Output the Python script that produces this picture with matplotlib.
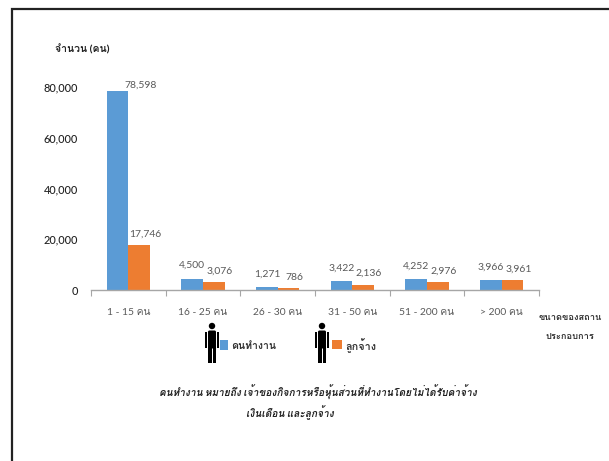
import matplotlib
matplotlib.use('Agg')
import matplotlib.pyplot as plt
from matplotlib import font_manager as fm
from matplotlib.patches import Circle, Rectangle, FancyBboxPatch

categories = ['1 - 15 คน', '16 - 25 คน', '26 - 30 คน', '31 - 50 คน', '51 - 200 คน', '> 200 คน']
workers = [78598, 4500, 1271, 3422, 4252, 3966]
employees = [17746, 3076, 786, 2136, 2976, 3961]
yticks = [0, 20000, 40000, 60000, 80000]
worker_label = 'คนทำงาน'
employee_label = 'ลูกจ้าง'
y_title = 'จำนวน (คน)'
x_title = ['ขนาดของสถาน', 'ประกอบการ']
note = ['คนทำงาน หมายถึง เจ้าของกิจการหรือหุ้นส่วนที่ทำงานโดยไม่ได้รับค่าจ้าง', 'เงินเดือน และลูกจ้าง']

# fonts covering Thai, Loma first when present
thai = []
for f in fm.fontManager.ttflist:
    try:
        if 0x0E01 in fm.get_font(f.fname).get_charmap() and f.name not in thai:
            thai.append(f.name)
    except Exception:
        pass
thai.sort(key=lambda n: n != 'Loma')
family = ['Lato'] + thai[:3] + ['DejaVu Sans']
plt.rcParams['font.family'] = family

W, H = 609, 461
PT = 0.72
fig = plt.figure(figsize=(W/100, H/100), dpi=100)
fig.patch.set_facecolor('white')
ax = fig.add_axes([91/W, 1-290/H, 448/W, 202.6/H])
x = list(range(len(categories)))
bw = 0.288
blue, orange = '#5B9BD5', '#ED7D31'
ax.bar([i-bw/2 for i in x], workers, bw, color=blue)
ax.bar([i+bw/2 for i in x], employees, bw, color=orange)
ax.set_xlim(-0.5, 5.5); ax.set_ylim(0, 80000)
for s in ['top', 'right', 'left']:
    ax.spines[s].set_visible(False)
ax.spines['bottom'].set_color('#A6A6A6'); ax.spines['bottom'].set_linewidth(1)
ax.set_yticks(yticks, [f'{v:,}' for v in yticks], fontsize=7.8, color='#222222', fontweight='medium')
ax.tick_params(axis='y', length=0, pad=9.4)
ax.set_xticks([i-0.5 for i in range(7)], [''] * 7)
ax.tick_params(axis='x', length=4, color='#A6A6A6', direction='out')
for i, c in enumerate(categories):
    ax.annotate(c, (i, 0), xytext=(0, -16.3), textcoords='offset points',
                ha='center', va='center', fontsize=7.4, color='#595959')
for i, (a, b) in enumerate(zip(workers, employees)):
    dx, dy = (23.5, 6) if i == 0 else (0, 13)
    ax.annotate(f'{a:,}', (i-bw/2, a), xytext=(dx*PT, dy*PT), textcoords='offset points',
                ha='center', va='center', fontsize=7.5, color='#595959', annotation_clip=False)
    ax.annotate(f'{b:,}', (i+bw/2, b), xytext=(6*PT, 11*PT), textcoords='offset points',
                ha='center', va='center', fontsize=7.5, color='#595959', annotation_clip=False)

def T(px, py, s, **k):
    fig.text(px/W, 1-py/H, s, **k)
T(55, 49, y_title, fontsize=7.5, fontweight='bold', color='#222222', va='center')
T(570, 317, x_title[0], fontsize=6.7, fontweight='bold', color='#333333', ha='center', va='center')
T(570, 336, x_title[1], fontsize=6.7, fontweight='bold', color='#333333', ha='center', va='center')
T(231, 346, worker_label, fontsize=7.5, fontweight='bold', color='#333333', va='center')
T(345, 346, employee_label, fontsize=7.8, fontweight='bold', color='#333333', va='center')
T(318, 392, note[0], fontsize=7.3, fontweight='bold', style='italic', color='#222222', ha='center', va='center')
T(290, 413, note[1], fontsize=7.3, fontweight='bold', style='italic', color='#222222', ha='center', va='center')

# page frame and legend icons in pixel coordinates
ov = fig.add_axes([0, 0, 1, 1], facecolor='none')
ov.set_xlim(0, W); ov.set_ylim(H, 0); ov.axis('off')
ov.plot([11.5, 11.5, W], [H, 9, 9], color='#222222', lw=1.6, solid_joinstyle='miter')
ov.add_patch(Rectangle((220, 340), 8, 10, color=blue, lw=0))
ov.add_patch(Rectangle((332, 340), 10, 9, color=orange, lw=0))
def person(cx):
    ov.add_patch(Circle((cx, 326), 3.2, color='black', lw=0))
    ov.add_patch(FancyBboxPatch((cx-4, 330.5), 8, 18, boxstyle='round,pad=0,rounding_size=1.5', color='black', lw=0))
    ov.add_patch(Rectangle((cx-7, 331.5), 2.4, 16, color='black', lw=0))
    ov.add_patch(Rectangle((cx+4.6, 331.5), 2.4, 16, color='black', lw=0))
    ov.add_patch(Rectangle((cx-4, 347), 3.5, 16, color='black', lw=0))
    ov.add_patch(Rectangle((cx+0.5, 347), 3.5, 16, color='black', lw=0))
person(212); person(322)
fig.savefig('out.png', dpi=100)
